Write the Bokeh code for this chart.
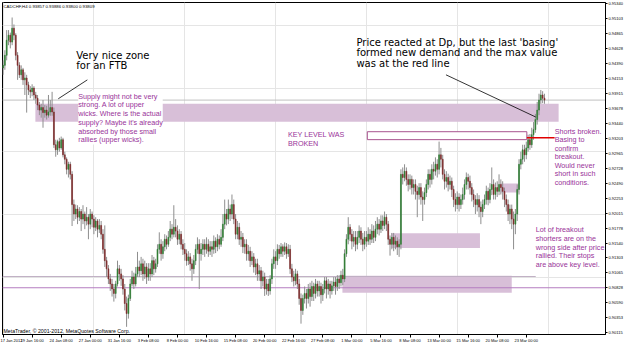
import numpy as np
from bokeh.plotting import figure
from bokeh.models import (ColumnDataSource, FixedTicker, LinearAxis, Label, Range1d,
                          NumeralTickFormatter)
from bokeh.embed import file_html
from bokeh.resources import INLINE

# ---------------- data ----------------
header_text = "CADCHF,H4  0.93857 0.93886 0.93800 0.93809"
copyright_text = "MetaTrader, \u00a9 2001-2012, MetaQuotes Software Corp."

first_open = 0.9432
closes = [
    .9436, .9452, .9476, .9484, .9473, .9495, .9484, .9452, .9436, .9421,
    .9429, .9413, .9416, .9405, .9397, .9394, .9400, .9389, .9384, .9373,
    .9365, .9369, .9361, .9365, .9357, .9362, .9369, .9362, .9310, .9302,
    .9315, .9305, .9318, .9294, .9287, .9271, .9279, .9263, .9215, .9200,
    .9208, .9195, .9204, .9192, .9200, .9189, .9195, .9184, .9200, .9192,
    .9179, .9189, .9176, .9182, .9168, .9144, .9126, .9113, .9097, .9089,
    .9081, .9074, .9089, .9113, .9105, .9097, .9081, .9058, .9042, .9066,
    .9089, .9100, .9089, .9105, .9116, .9110, .9121, .9105, .9116, .9100,
    .9113, .9105, .9126, .9113, .9121, .9144, .9152, .9137, .9148, .9160,
    .9152, .9163, .9176, .9168, .9179, .9173, .9160, .9168, .9152, .9144,
    .9137, .9126, .9132, .9121, .9113, .9126, .9144, .9152, .9137, .9144,
    .9152, .9144, .9152, .9141, .9148, .9144, .9157, .9148, .9160, .9152,
    .9163, .9184, .9200, .9192, .9208, .9200, .9215, .9192, .9168, .9179,
    .9160, .9163, .9148, .9152, .9137, .9141, .9126, .9132, .9116, .9121,
    .9105, .9110, .9094, .9100, .9081, .9089, .9078, .9097, .9121, .9132,
    .9126, .9144, .9137, .9148, .9141, .9148, .9137, .9144, .9113, .9100,
    .9094, .9105, .9089, .9066, .9047, .9066, .9074, .9066, .9081, .9069,
    .9085, .9074, .9089, .9078, .9085, .9072, .9081, .9094, .9081, .9089,
    .9078, .9086, .9092, .9085, .9097, .9091, .9103, .9097, .9137, .9160,
    .9179, .9168, .9157, .9163, .9152, .9163, .9173, .9160, .9152, .9163,
    .9157, .9168, .9160, .9173, .9163, .9176, .9184, .9176, .9189, .9182,
    .9195, .9184, .9160, .9152, .9163, .9152, .9157, .9148, .9152, .9263,
    .9258, .9268, .9255, .9247, .9255, .9242, .9247, .9236, .9231, .9242,
    .9227, .9223, .9234, .9247, .9263, .9255, .9271, .9268, .9279, .9271,
    .9294, .9287, .9263, .9252, .9258, .9247, .9252, .9239, .9223, .9215,
    .9227, .9215, .9223, .9231, .9247, .9258, .9252, .9242, .9231, .9223,
    .9215, .9223, .9211, .9204, .9215, .9223, .9236, .9223, .9239, .9247,
    .9231, .9242, .9236, .9247, .9242, .9236, .9223, .9215, .9200, .9208,
    .9192, .9184, .9200, .9239, .9279, .9287, .9302, .9294, .9305, .9318,
    .9310, .9326, .9334, .9350, .9365, .9381, .9389, .9384, .93809,
]
highs = [
    .9444, .9460, .9492, .9492, .9488, .9512, .9501, .9487, .9457, .9441,
    .9436, .9432, .9425, .9421, .9410, .9403, .9406, .9403, .9394, .9389,
    .9378, .9375, .9381, .9373, .9372, .9389, .9381, .9394, .9369, .9318,
    .9318, .9321, .9323, .9321, .9299, .9290, .9283, .9283, .9268, .9223,
    .9215, .9214, .9211, .9208, .9214, .9204, .9211, .9200, .9208, .9204,
    .9198, .9195, .9192, .9192, .9189, .9176, .9182, .9132, .9119, .9105,
    .9097, .9089, .9094, .9126, .9119, .9113, .9103, .9089, .9069, .9072,
    .9097, .9110, .9107, .9116, .9140, .9126, .9132, .9129, .9126, .9122,
    .9122, .9122, .9135, .9132, .9129, .9152, .9171, .9160, .9157, .9168,
    .9166, .9173, .9189, .9184, .9214, .9192, .9182, .9176, .9173, .9160,
    .9154, .9144, .9141, .9138, .9129, .9135, .9152, .9163, .9160, .9154,
    .9160, .9160, .9163, .9160, .9157, .9157, .9166, .9163, .9168, .9166,
    .9176, .9200, .9223, .9208, .9223, .9215, .9231, .9223, .9200, .9189,
    .9186, .9173, .9170, .9160, .9160, .9151, .9148, .9141, .9138, .9129,
    .9129, .9119, .9116, .9110, .9107, .9097, .9097, .9103, .9129, .9144,
    .9141, .9152, .9151, .9154, .9152, .9155, .9154, .9152, .9151, .9121,
    .9110, .9113, .9110, .9097, .9074, .9072, .9085, .9081, .9089, .9091,
    .9094, .9091, .9097, .9094, .9094, .9091, .9089, .9100, .9100, .9097,
    .9094, .9094, .9100, .9100, .9103, .9103, .9110, .9113, .9144, .9168,
    .9195, .9184, .9176, .9173, .9173, .9173, .9182, .9179, .9170, .9173,
    .9173, .9179, .9176, .9184, .9182, .9189, .9195, .9192, .9198, .9198,
    .9204, .9200, .9189, .9166, .9170, .9170, .9166, .9163, .9160, .9271,
    .9274, .9279, .9274, .9263, .9263, .9261, .9255, .9255, .9245, .9249,
    .9249, .9236, .9242, .9255, .9271, .9271, .9279, .9283, .9290, .9287,
    .9315, .9305, .9294, .9271, .9268, .9264, .9261, .9258, .9245, .9233,
    .9236, .9233, .9231, .9242, .9255, .9266, .9264, .9261, .9249, .9239,
    .9230, .9233, .9230, .9220, .9223, .9231, .9245, .9242, .9249, .9274,
    .9255, .9250, .9252, .9263, .9255, .9252, .9242, .9231, .9223, .9215,
    .9215, .9204, .9208, .9247, .9287, .9299, .9310, .9310, .9315, .9326,
    .9327, .9337, .9346, .9359, .9378, .9391, .9397, .9395, .9391,
]
lows = [
    .9421, .9429, .9444, .9468, .9463, .9468, .9476, .9444, .9413, .9416,
    .9413, .9405, .9389, .9361, .9389, .9384, .9387, .9381, .9375, .9365,
    .9357, .9353, .9337, .9353, .9350, .9353, .9356, .9356, .9305, .9291,
    .9294, .9299, .9302, .9290, .9279, .9263, .9258, .9255, .9181, .9189,
    .9192, .9184, .9189, .9173, .9184, .9176, .9182, .9160, .9176, .9179,
    .9168, .9173, .9163, .9170, .9160, .9137, .9116, .9100, .9089, .9078,
    .9069, .9061, .9066, .9085, .9094, .9086, .9072, .9047, .9021, .9034,
    .9062, .9085, .9081, .9085, .9100, .9100, .9103, .9094, .9097, .9089,
    .9094, .9094, .9100, .9103, .9107, .9116, .9137, .9126, .9129, .9141,
    .9144, .9148, .9157, .9160, .9163, .9163, .9151, .9152, .9144, .9135,
    .9126, .9118, .9119, .9110, .9094, .9105, .9119, .9137, .9081, .9126,
    .9135, .9132, .9137, .9132, .9135, .9132, .9137, .9138, .9141, .9144,
    .9148, .9157, .9176, .9182, .9184, .9189, .9192, .9184, .9160, .9160,
    .9151, .9148, .9138, .9137, .9126, .9126, .9116, .9119, .9107, .9103,
    .9094, .9094, .9081, .9085, .9070, .9072, .9070, .9072, .9089, .9113,
    .9113, .9119, .9129, .9132, .9132, .9135, .9129, .9132, .9105, .9092,
    .9085, .9087, .9081, .9056, .9026, .9040, .9058, .9050, .9058, .9053,
    .9062, .9062, .9066, .9069, .9069, .9058, .9062, .9074, .9066, .9072,
    .9066, .9072, .9078, .9072, .9078, .9081, .9085, .9087, .9092, .9132,
    .9152, .9157, .9144, .9148, .9141, .9144, .9154, .9151, .9141, .9144,
    .9148, .9151, .9151, .9154, .9154, .9157, .9168, .9166, .9170, .9173,
    .9176, .9173, .9151, .9134, .9144, .9141, .9144, .9135, .9132, .9144,
    .9247, .9252, .9245, .9236, .9239, .9231, .9231, .9223, .9195, .9223,
    .9215, .9189, .9215, .9227, .9239, .9242, .9247, .9255, .9261, .9258,
    .9263, .9274, .9255, .9239, .9242, .9236, .9239, .9227, .9211, .9204,
    .9208, .9204, .9208, .9215, .9223, .9239, .9239, .9231, .9220, .9211,
    .9200, .9204, .9195, .9184, .9195, .9208, .9215, .9214, .9217, .9230,
    .9223, .9223, .9227, .9230, .9231, .9223, .9211, .9204, .9189, .9184,
    .9176, .9144, .9168, .9189, .9231, .9271, .9279, .9283, .9287, .9299,
    .9302, .9305, .9318, .9329, .9342, .9357, .9375, .9376, .9375,
]

date_tick_bars = [0, 16, 32, 48, 64, 80, 96, 112, 128, 144, 160, 176, 192, 208, 224, 240, 256, 272, 288]
date_tick_labels = ["17 Jan 2012", "19 Jan 16:00", "24 Jan 08:00", "27 Jan 00:00", "31 Jan 16:00",
                    "3 Feb 08:00", "8 Feb 00:00", "10 Feb 16:00", "15 Feb 08:00", "20 Feb 00:00",
                    "22 Feb 16:00", "27 Feb 08:00", "1 Mar 00:00", "5 Mar 16:00", "8 Mar 08:00",
                    "13 Mar 00:00", "15 Mar 16:00", "20 Mar 08:00", "23 Mar 00:00"]
price_ticks = [0.90115, 0.90353, 0.90590, 0.90828, 0.91065, 0.91303, 0.91540, 0.91778,
               0.92015, 0.92253, 0.92490, 0.92728, 0.92965, 0.93203, 0.93440, 0.93678,
               0.93915, 0.94153, 0.94390, 0.94628, 0.94865, 0.95103, 0.95340]

# zones (rectangles drawn on the chart): bar index / price
zone_left = [17.8, 186.8, 213.7, 274.0]
zone_right = [305.8, 280.0, 262.5, 283.9]
zone_top = [0.93749, 0.91019, 0.91697, 0.92486]
zone_bottom = [0.93465, 0.90751, 0.91461, 0.92344]

key_box = dict(left=[200.5], right=[288.3], top=[0.93307], bottom=[0.93181])
red_line_x = [288.3, 303.6]
red_line_price = 0.93212

last_price = 0.93809
hline_prices = [0.91008, 0.90830]
hline_ends = [293.2, 331.6]

arrow_x0 = [46.4, 243.8]
arrow_y0 = [0.9413, 0.9421]
arrow_x1 = [30.4, 293.2]
arrow_y1 = [0.9383, 0.9354]

# ---------------- build ----------------
n = min(len(closes), len(highs), len(lows))
closes = closes[:n]
opens = [first_open] + closes[:-1]
hi = [max(h, o, c) for h, o, c in zip(highs[:n], opens, closes)]
lo = [min(l, o, c) for l, o, c in zip(lows[:n], opens, closes)]
idx = list(range(n))
bull = [c >= o for o, c in zip(opens, closes)]
body_col = ["#2E7D32" if b else "#7E2A2A" for b in bull]

XR = (-0.3, 331.6)
YR = (0.90088, 0.95358)

p = figure(width=625, height=345, output_backend="svg", toolbar_location=None,
           x_range=Range1d(*XR), y_range=Range1d(*YR),
           x_axis_location=None, y_axis_location=None,
           min_border_left=2, min_border_top=2, min_border_right=18, min_border_bottom=8)
p.outline_line_color = "black"
p.outline_line_width = 1
p.background_fill_color = "white"
p.border_fill_color = "white"

# zones behind candles
p.quad(left=zone_left, right=zone_right, top=zone_top, bottom=zone_bottom,
       fill_color="#D8BFD8", line_color=None)

# horizontal lines
p.segment(x0=[XR[0]], y0=[last_price], x1=[XR[1]], y1=[last_price], line_color="#C0C0C0", line_width=1)
p.segment(x0=[XR[0]], y0=[hline_prices[0]], x1=[hline_ends[0]], y1=[hline_prices[0]],
          line_color="#BFAFC4", line_width=1)
p.segment(x0=[XR[0]], y0=[hline_prices[1]], x1=[hline_ends[1]], y1=[hline_prices[1]],
          line_color="#B57CC0", line_width=1)

# candles
src = ColumnDataSource(dict(x=idx, o=opens, c=closes, h=hi, l=lo,
                            top=[max(a, b) for a, b in zip(opens, closes)],
                            bottom=[min(a, b) for a, b in zip(opens, closes)],
                            col=body_col))
p.segment(x0="x", y0="l", x1="x", y1="h", source=src, line_color="#8E8E8E", line_width=1)
p.vbar(x="x", width=0.5, top="top", bottom="bottom", source=src,
       fill_color="col", line_color="col", line_width=0.6)

# key level outline box and red line
p.quad(left=key_box["left"], right=key_box["right"], top=key_box["top"], bottom=key_box["bottom"],
       fill_color="white", line_color="#A8538E", line_width=1)
p.segment(x0=[red_line_x[0]], y0=[red_line_price], x1=[red_line_x[1]], y1=[red_line_price],
          line_color="#E00000", line_width=1.5)

# arrows
p.segment(x0=arrow_x0, y0=arrow_y0, x1=arrow_x1, y1=arrow_y1, line_color="black", line_width=0.8)

# axes
xaxis = LinearAxis(ticker=FixedTicker(ticks=date_tick_bars),
                   major_label_overrides={b: l for b, l in zip(date_tick_bars, date_tick_labels)},
                   major_label_text_font="Liberation Sans", major_label_text_font_size="4px",
                   major_label_text_color="black", major_label_text_align="left",
                   major_label_standoff=0, major_tick_out=3, major_tick_in=0,
                   minor_tick_out=0, minor_tick_in=0, axis_line_color="black")
p.add_layout(xaxis, "below")
yaxis = LinearAxis(ticker=FixedTicker(ticks=price_ticks),
                   formatter=NumeralTickFormatter(format="0.00000"),
                   major_label_text_font="Liberation Sans", major_label_text_font_size="4px",
                   major_label_text_color="black",
                   major_label_standoff=1, major_tick_out=2, major_tick_in=0,
                   minor_tick_out=0, minor_tick_in=0, axis_line_color="black")
p.add_layout(yaxis, "right")

purple = "#993399"

def add_label(x, y, text, font, size, color, lh=1.2, bg=None, **kw):
    lab = Label(x=x, y=y, text=text, text_font=font, text_font_size=size, text_color=color,
                text_align="left", text_baseline="top", text_line_height=lh, **kw)
    if bg is not None:
        lab.background_fill_color = bg
    p.add_layout(lab)

add_label(40.3, 0.94609, "Very nice zone\nfor an FTB", "DejaVu Sans", "10px", "black", lh=0.95)
add_label(194.5, 0.94806, "Price reacted at Dp, but the last 'basing'\nformed new demand and the max value\nwas at the red line",
          "DejaVu Sans", "10px", "black", lh=0.92)
add_label(41.4, 0.93941, "Supply might not be very\nstrong. A lot of upper\nwicks. Where is the actual\nsupply? Maybe it's already\nabsorbed by those small\nrallies (upper wicks).",
          "Liberation Sans", "7.2px", purple, lh=0.97, bg="white")
add_label(156.8, 0.93336, "KEY LEVEL  WAS\nBROKEN", "Liberation Sans", "7.2px", purple, lh=1.0)
add_label(303.6, 0.93386, "Shorts broken.\nBasing to\nconfirm\nbreakout.\nWould never\nshort in such\nconditions.",
          "Liberation Sans", "7.2px", purple, lh=0.95)
add_label(293.2, 0.91819, "Lot of breakout\nshorters are on the\nwrong side after price\nrallied. Their stops\nare above key level.",
          "Liberation Sans", "7.2px", purple, lh=0.95)

# header and copyright
p.add_layout(Label(x=XR[0], y=YR[1], text=header_text, text_font="Liberation Sans",
                   text_font_size="4.3px", text_color="black", text_align="left",
                   text_baseline="top", x_offset=1, y_offset=-1.5))
p.add_layout(Label(x=XR[0], y=YR[0], text=copyright_text, text_font="Liberation Sans",
                   text_font_size="5.2px", text_color="black", text_align="left",
                   text_baseline="bottom", x_offset=1, y_offset=1))

# price labels on the axis
p.add_layout(Label(x=XR[1], y=last_price, text=f"{last_price:.5f}", text_font="Liberation Sans",
                   text_font_size="4px", text_color="white", background_fill_color="black",
                   text_align="left", text_baseline="middle", x_offset=1))
for hp in hline_prices:
    p.add_layout(Label(x=XR[1], y=hp, text=f"{hp:.5f}", text_font="Liberation Sans",
                       text_font_size="4px", text_color="white", background_fill_color="#B060C0",
                       text_align="left", text_baseline="middle", x_offset=1))

open("out.html", "w").write(file_html(p, INLINE))
